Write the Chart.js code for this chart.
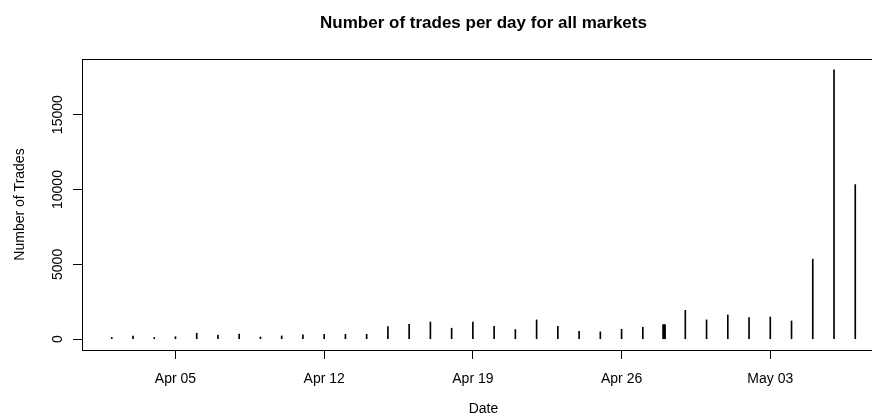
<!DOCTYPE html>
<html><head><meta charset="utf-8">
<script src="https://cdn.jsdelivr.net/npm/chart.js@4.4.1/dist/chart.umd.min.js"></script>
<style>
html,body{margin:0;padding:0;overflow:hidden;background:#fff;width:872px;height:417px}
#wrap{position:absolute;left:0;top:0;width:900px;height:417px}
canvas{display:block}
</style>
</head><body><div id="wrap"><canvas id="c" width="900" height="417"></canvas></div>
<script>
const dates = ['Apr 02','Apr 03','Apr 04','Apr 05','Apr 06','Apr 07','Apr 08','Apr 09','Apr 10','Apr 11',
  'Apr 12','Apr 13','Apr 14','Apr 15','Apr 16','Apr 17','Apr 18','Apr 19','Apr 20','Apr 21',
  'Apr 22','Apr 23','Apr 24','Apr 25','Apr 26','Apr 27','Apr 28','Apr 29','Apr 30','May 01',
  'May 02','May 03','May 04','May 05','May 06','May 07'];
const trades = [120,210,110,170,400,280,340,150,220,290,
  320,330,330,845,1000,1150,735,1150,865,645,
  1290,865,535,490,665,800,970,1930,1290,1620,
  1445,1490,1220,5350,18000,10330];
const tickLabels = ['Apr 05','Apr 12','Apr 19','Apr 26','May 03'];
const yTicks = [0,5000,10000,15000];
const thickDay = 'Apr 28';

const tickIdx = tickLabels.map(l => dates.indexOf(l));
const n = dates.length;
const xPad = (n - 1) * 0.04;
const yMax = Math.max(...trades);
const yPad = yMax * 0.04;
const FONT = 'Liberation Sans, Arial, Helvetica, sans-serif';

const extras = {
  id: 'extras',
  afterDraw(chart) {
    const {ctx, chartArea: a, scales} = chart;
    ctx.save();
    ctx.strokeStyle = '#000';
    ctx.lineWidth = 1;
    ctx.strokeRect(Math.round(a.left) + 0.5, Math.round(a.top) + 0.5,
      Math.round(a.right - a.left), Math.round(a.bottom - a.top));
    ctx.fillStyle = '#000';
    ctx.font = 'bold 17px ' + FONT;
    ctx.textAlign = 'center';
    ctx.textBaseline = 'middle';
    ctx.fillText('Number of trades per day for all markets', (a.left + a.right) / 2, 23);
    ctx.font = '14px ' + FONT;
    yTicks.forEach(v => {
      const y = scales.y.getPixelForValue(v);
      ctx.save();
      ctx.translate(58, y);
      ctx.rotate(-Math.PI / 2);
      ctx.fillText(String(v), 0, 0);
      ctx.restore();
    });
    ctx.restore();
  }
};

new Chart(document.getElementById('c'), {
  type: 'bar',
  data: {
    datasets: [
      {
        data: trades.map((v, i) => ({x: i, y: v})),
        backgroundColor: '#000', borderWidth: 0, barThickness: 1, grouped: false
      },
      {
        data: trades.map((v, i) => ({x: i, y: dates[i] === thickDay ? v : null})),
        backgroundColor: '#000', borderWidth: 0, barThickness: 3, grouped: false
      }
    ]
  },
  options: {
    responsive: false,
    devicePixelRatio: 1,
    animation: false,
    layout: {padding: {left: 0, right: 15, top: 59, bottom: 0}},
    plugins: {legend: {display: false}, tooltip: {enabled: false}, title: {display: false}},
    scales: {
      x: {
        type: 'linear',
        offset: false,
        min: -xPad, max: n - 1 + xPad,
        afterBuildTicks: ax => { ax.ticks = tickIdx.map(v => ({value: v})); },
        afterFit: s => { s.height = 67; },
        ticks: {
          autoSkip: false, maxRotation: 0, minRotation: 0, padding: 12,
          color: '#000', font: {family: FONT, size: 14},
          callback: v => tickLabels[tickIdx.indexOf(v)] || ''
        },
        grid: {offset: false, drawOnChartArea: false, drawTicks: true, tickLength: 9, color: '#000', lineWidth: 1},
        border: {display: false},
        title: {display: true, text: 'Date', color: '#000', font: {family: FONT, size: 14}, padding: {top: 0, bottom: -1}}
      },
      y: {
        type: 'linear',
        min: -yPad, max: yMax + yPad,
        afterBuildTicks: ax => { ax.ticks = yTicks.map(v => ({value: v})); },
        afterFit: s => { s.width = 82; },
        ticks: {callback: () => '', padding: 0},
        grid: {drawOnChartArea: false, drawTicks: true, tickLength: 9, color: '#000', lineWidth: 1},
        border: {display: false},
        title: {display: true, text: 'Number of Trades', color: '#000', font: {family: FONT, size: 14}, padding: {top: 12, bottom: 0}}
      }
    }
  },
  plugins: [extras]
});
</script>
</body></html>
